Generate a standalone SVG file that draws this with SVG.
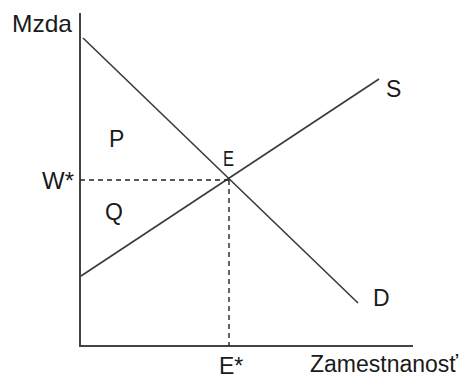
<svg xmlns="http://www.w3.org/2000/svg" width="461" height="376" viewBox="0 0 461 376">
<style>
text{font-family:"Liberation Sans",Arial,sans-serif;font-size:23px;fill:#1a1a1a}
.ax{stroke:#444;stroke-width:2;fill:none}
.ln{stroke:#3a3a3a;stroke-width:1.6;fill:none}
.dash{stroke:#222;stroke-width:1.4;stroke-dasharray:5,4;fill:none}
</style>
<rect width="461" height="376" fill="#fff"/>
<g id="connectors">
<path class="ax" d="M80,13 V346 H413"/>
<path class="ln" d="M83,38 L358,303"/>
<path class="ln" d="M81,276 L379,79"/>
<path class="dash" d="M80,180 H229"/>
<path class="dash" d="M229,180 V346"/>
</g>
<g id="labels">
<text x="12" y="32" style="font-size:24px" textLength="60" lengthAdjust="spacingAndGlyphs">Mzda</text>
<text x="42" y="189" textLength="32" lengthAdjust="spacingAndGlyphs">W*</text>
<text x="109" y="147">P</text>
<text x="105" y="220">Q</text>
<text x="223" y="166" style="font-size:22px" textLength="11" lengthAdjust="spacingAndGlyphs">E</text>
<text x="386" y="97">S</text>
<text x="373" y="306">D</text>
<text x="219" y="374">E*</text>
<text x="310" y="372" textLength="148" lengthAdjust="spacingAndGlyphs">Zamestnanosť</text>
</g>
</svg>
